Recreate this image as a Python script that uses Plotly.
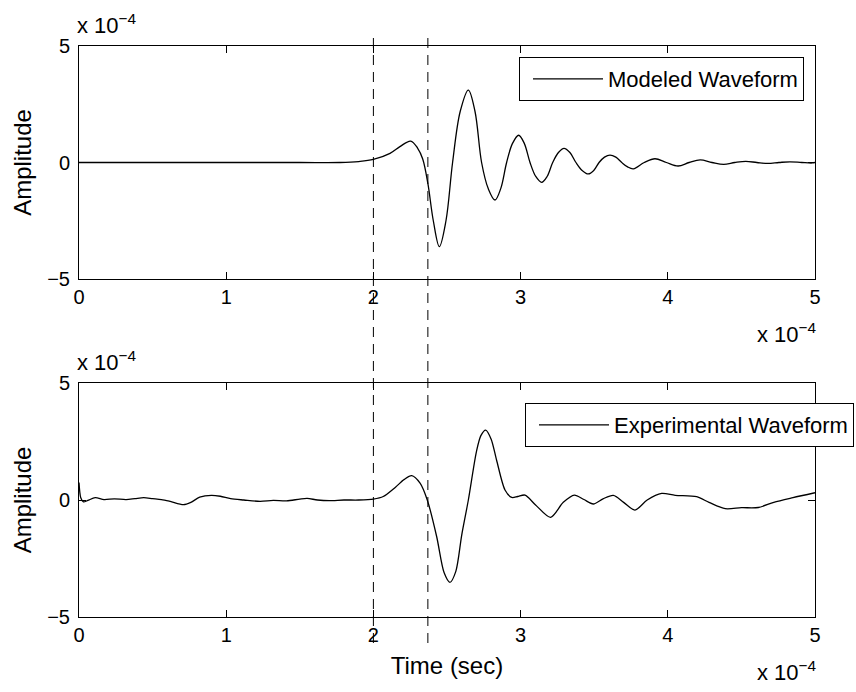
import plotly.graph_objects as go

# Time axis in units of 1e-4 s, amplitude in units of 1e-4
model_t = [0.0, 0.8, 1.5, 1.773, 1.9, 2.0, 2.113, 2.18, 2.253, 2.30, 2.335, 2.37, 2.407,
           2.448, 2.493, 2.538, 2.59, 2.645, 2.69, 2.735, 2.78, 2.826, 2.865, 2.905,
           2.945, 2.987, 3.025, 3.064, 3.103, 3.143, 3.18, 3.218, 3.257, 3.295, 3.335,
           3.376, 3.418, 3.46, 3.497, 3.533, 3.57, 3.607, 3.647, 3.687, 3.727, 3.766,
           3.84, 3.913, 3.99, 4.07, 4.145, 4.22, 4.30, 4.38, 4.455, 4.53, 4.605, 4.68,
           4.755, 4.83, 4.91, 4.98, 5.0]
model_amp = [0.0, 0.0, 0.0, 0.0, 0.04, 0.13, 0.39, 0.68, 0.92, 0.62, 0.15, -0.9, -2.5,
             -3.61, -2.5, 0.0, 2.2, 3.11, 2.2, 0.0, -1.12, -1.61, -1.12, 0.0,
             0.82, 1.17, 0.82, 0.0, -0.6, -0.85, -0.6, 0.0, 0.43, 0.61, 0.43,
             0.0, -0.34, -0.49, -0.34, 0.0, 0.23, 0.32, 0.23, 0.0, -0.19, -0.27,
             0.0, 0.16, 0.0, -0.15, 0.0, 0.11, 0.0, -0.08, 0.0, 0.05, 0.0, -0.04,
             0.0, 0.03, 0.0, -0.02, 0.0]

exp_t = [0.0, 0.012, 0.03, 0.06, 0.11, 0.17, 0.24, 0.32, 0.38, 0.44, 0.5, 0.56, 0.62,
         0.71, 0.76, 0.82, 0.9, 0.96, 1.03, 1.12, 1.23, 1.32, 1.41, 1.5, 1.55, 1.62,
         1.7, 1.8, 1.9, 2.0, 2.067, 2.15, 2.21, 2.26, 2.317, 2.366, 2.43, 2.48, 2.52,
         2.56, 2.60, 2.645, 2.70, 2.73, 2.763, 2.80, 2.837, 2.894, 2.94, 2.98, 3.03,
         3.1, 3.204, 3.29, 3.365, 3.43, 3.494, 3.56, 3.63, 3.7, 3.777, 3.86, 3.958,
         4.05, 4.196, 4.28, 4.39, 4.5, 4.615, 4.72, 4.85, 5.0]
exp_amp = [0.75, 0.1, -0.08, -0.02, 0.1, 0.02, 0.05, 0.02, 0.06, 0.1, 0.06, 0.02, -0.06,
           -0.2, -0.1, 0.12, 0.2, 0.16, 0.06, 0.0, -0.06, -0.02, -0.04, 0.04, 0.07, 0.0,
           -0.03, 0.0, 0.0, 0.04, 0.15, 0.55, 0.88, 1.04, 0.72, 0.0, -1.57, -3.1, -3.52,
           -3.05, -1.5, 0.0, 2.07, 2.75, 2.99, 2.6, 1.7, 0.43, 0.11, 0.15, 0.21,
           -0.2, -0.74, -0.1, 0.21, 0.02, -0.17, 0.05, 0.2, -0.1, -0.43, 0.0, 0.28,
           0.2, 0.14, -0.1, -0.37, -0.33, -0.32, -0.1, 0.1, 0.31]

x_ticks = [0, 1, 2, 3, 4, 5]
x_ticktext = ["0", "1", "2", "3", "4", "5"]
y_ticks = [-5, 0, 5]
y_ticktext = ["\u22125", "0", "5"]
marker_times = [2.0, 2.37]

FONT = "Liberation Sans, Arial, Helvetica, sans-serif"
W, H = 856, 692

fig = go.Figure()
fig.add_trace(go.Scatter(x=model_t, y=model_amp, mode="lines", name="Modeled Waveform",
                         line=dict(color="black", width=1.3, shape="spline", smoothing=1.0),
                         xaxis="x", yaxis="y", legend="legend"))
fig.add_trace(go.Scatter(x=exp_t, y=exp_amp, mode="lines", name="Experimental Waveform",
                         line=dict(color="black", width=1.3, shape="spline", smoothing=0.8),
                         xaxis="x2", yaxis="y2", legend="legend2"))

x_dom = [79 / W, 815 / W]
top_dom = [(H - 279) / H, (H - 46) / H]
bot_dom = [(H - 617) / H, (H - 383) / H]

axis_common = dict(showline=True, linecolor="black", linewidth=1, mirror="allticks",
                   ticks="inside", ticklen=7, tickcolor="black", tickwidth=1,
                   showgrid=False, zeroline=False, automargin=False,
                   tickfont=dict(family=FONT, size=20, color="black"))

legend_common = dict(xanchor="right", yanchor="top", bgcolor="white",
                     bordercolor="black", borderwidth=1, indentation=8,
                     font=dict(family=FONT, size=22), itemwidth=70)

fig.update_layout(
    width=W, height=H, margin=dict(l=0, r=0, t=0, b=0, autoexpand=False),
    paper_bgcolor="white", plot_bgcolor="white",
    font=dict(family=FONT, size=20, color="black"),
    xaxis=dict(domain=x_dom, range=[0, 5], tickvals=x_ticks, ticktext=x_ticktext,
               anchor="y", **axis_common),
    yaxis=dict(domain=top_dom, range=[-5, 5], tickvals=y_ticks, ticktext=y_ticktext,
               anchor="x", ticklabelstandoff=4,
               title=dict(text="Amplitude", standoff=8), **axis_common),
    xaxis2=dict(domain=x_dom, range=[0, 5], tickvals=x_ticks, ticktext=x_ticktext,
                anchor="y2", title=dict(text="Time (sec)", standoff=12), **axis_common),
    yaxis2=dict(domain=bot_dom, range=[-5, 5], tickvals=y_ticks, ticktext=y_ticktext,
                anchor="x2", ticklabelstandoff=4,
                title=dict(text="Amplitude", standoff=8), **axis_common),
    legend=dict(x=804 / W, y=(H - 57) / H, **legend_common),
    legend2=dict(x=854 / W, y=(H - 403) / H, **legend_common),
    showlegend=True,
)

# Vertical dashed markers spanning both panels
for t in marker_times:
    fig.add_shape(type="line", xref="x2", yref="paper", x0=t, x1=t,
                  y0=(H - 643) / H, y1=(H - 36) / H,
                  line=dict(color="black", width=1, dash="10px,7px"), layer="above")

# Exponent labels for the axes
exp_text = "x 10<sup>\u22124</sup>"
for xa, ya in [("x", "y"), ("x2", "y2")]:
    fig.add_annotation(text=exp_text, xref=f"{xa} domain", yref=f"{ya} domain",
                       x=0, y=1, xanchor="left", yanchor="bottom", showarrow=False,
                       font=dict(family=FONT, size=22), yshift=6, xshift=-4)
    fig.add_annotation(text=exp_text, xref=f"{xa} domain", yref=f"{ya} domain",
                       x=1, y=0, xanchor="right", yanchor="top", showarrow=False,
                       font=dict(family=FONT, size=22), yshift=-38, xshift=4)

fig.write_html("out.html")
